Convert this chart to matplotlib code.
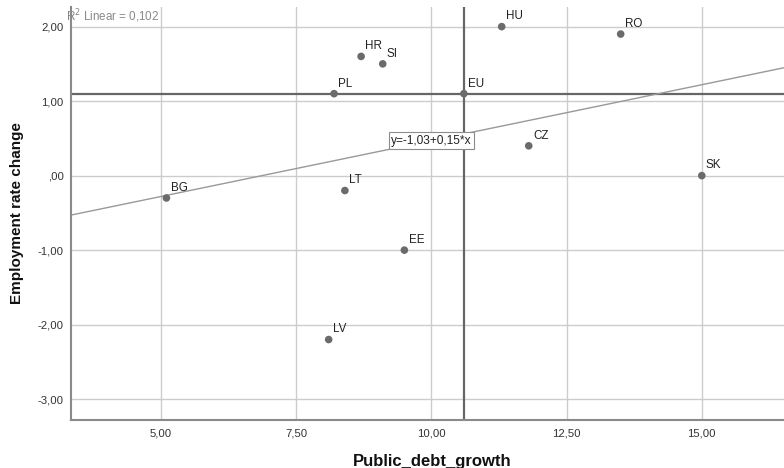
import matplotlib
matplotlib.use("Agg")
import matplotlib.pyplot as plt
import numpy as np
from matplotlib.ticker import FixedLocator, FuncFormatter

plt.rcParams['font.family'] = ['Liberation Sans', 'DejaVu Sans']

# ---- data ----
countries = ["HU", "RO", "EU", "CZ", "SK", "HR", "SI", "PL", "LT", "BG", "EE", "LV"]
debt_growth = [11.3, 13.5, 10.6, 11.8, 15.0, 8.7, 9.1, 8.2, 8.4, 5.1, 9.5, 8.1]
employment_change = [2.0, 1.9, 1.1, 0.4, 0.0, 1.6, 1.5, 1.1, -0.2, -0.3, -1.0, -2.2]
ref_x = 10.6
ref_y = 1.1
intercept = -1.03
slope = 0.15
r2_text = "R$^2$ Linear = 0,102"
eq_text = "y=-1,03+0,15*x"
x_ticks = [5.0, 7.5, 10.0, 12.5, 15.0]
y_ticks = [-3.0, -2.0, -1.0, 0.0, 1.0, 2.0]

fig = plt.figure(figsize=(7.84, 4.68), dpi=100)
ax = fig.add_axes([70.7/784, 1 - 420/468, 1 - 70.7/784, (420 - 6.5)/468])

xlim = (3.33, 16.52)
ylim = (-3.28, 2.27)
ax.set_xlim(*xlim)
ax.set_ylim(*ylim)

ax.xaxis.set_major_locator(FixedLocator(x_ticks))
ax.yaxis.set_major_locator(FixedLocator(y_ticks))
fmt = FuncFormatter(lambda v, p: (f"{v:.2f}".replace(".", ",") if abs(v) >= 0.005 else ",00"))
ax.xaxis.set_major_formatter(fmt)
ax.yaxis.set_major_formatter(fmt)
ax.tick_params(length=0, labelsize=8.2, colors="#333333")
ax.tick_params(axis='x', pad=6)
ax.tick_params(axis='y', pad=5)

ax.grid(True, color="#cccccc", linewidth=1.0, zorder=0)
ax.set_axisbelow(True)

for s in ["top", "right"]:
    ax.spines[s].set_visible(False)
for s in ["left", "bottom"]:
    ax.spines[s].set_color("#8a8a8a")
    ax.spines[s].set_linewidth(1.5)

# reference lines
ax.axhline(ref_y, color="#666666", linewidth=1.6, zorder=2)
ax.axvline(ref_x, color="#666666", linewidth=1.6, zorder=2)

# regression line
xs = np.array(xlim)
ax.plot(xs, intercept + slope * xs, color="#999999", linewidth=1.0, zorder=2)

# points
ax.scatter(debt_growth, employment_change, s=30, color="#6b6b6b", edgecolors="none", zorder=3)
for c, x, y in zip(countries, debt_growth, employment_change):
    ax.annotate(c, (x, y), xytext=(3, 3), textcoords="offset points",
                fontsize=8.4, color="#222222", ha="left", va="bottom", zorder=4)

# equation box
ax.text(10.0, 0.47, eq_text, fontsize=8.6, color="#222222", ha="center", va="center",
        bbox=dict(boxstyle="square,pad=0.2", facecolor="white", edgecolor="#8c8c8c", linewidth=0.8),
        zorder=5)

fig.text(66/784, 1 - 16.5/468, r2_text, fontsize=8.4, color="#888888", ha="left", va="center")

fig.text(432/784, 1 - 466/468, "Public_debt_growth", fontsize=12, fontweight="bold",
         ha="center", va="baseline", color="#111111")
fig.text(17/784, 1 - 213/468, "Employment rate change", fontsize=11, fontweight="bold",
         ha="center", va="center", rotation=90, color="#111111")

fig.savefig("out.png", dpi=100)
